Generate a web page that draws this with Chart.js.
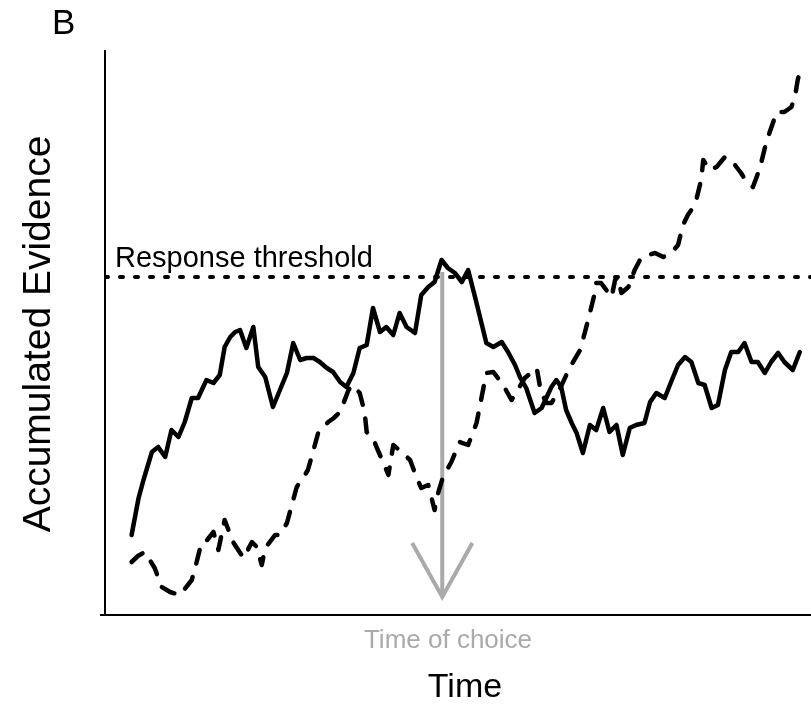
<!DOCTYPE html>
<html>
<head>
<meta charset="utf-8">
<script src="https://cdn.jsdelivr.net/npm/chart.js@4"></script>
<style>
  html, body { margin: 0; padding: 0; background: #fff; }
  #wrap { width: 811px; height: 704px; position: relative; }
</style>
</head>
<body>
<div id="wrap"><canvas id="myChart"></canvas></div>
<script>
// solid accumulator (time, evidence)
const solidTime = [3.8, 4.8, 5.5, 6.7, 7.6, 8.6, 9.5, 10.5, 11.4, 12.4, 13.3, 14.5, 15.5, 16.4, 17.1, 17.9, 18.6, 19.3, 20.2, 21.2, 21.9, 22.9, 24.0, 25.0, 26.0, 26.9, 27.9, 28.8, 29.8, 30.7, 31.7, 32.6, 33.6, 34.5, 35.5, 36.4, 37.4, 38.3, 39.3, 40.2, 41.2, 42.1, 43.1, 44.3, 45.2, 46.2, 47.1, 48.1, 49.0, 50.0, 51.0, 51.9, 53.1, 54.5, 55.5, 56.7, 57.6, 58.6, 59.3, 60.2, 61.4, 62.4, 63.8, 64.5, 65.2, 65.9, 66.7, 67.4, 68.3, 69.3, 70.2, 71.2, 72.1, 73.1, 74.0, 75.0, 75.9, 77.1, 77.9, 78.8, 80.0, 80.9, 81.9, 82.9, 83.8, 84.8, 85.7, 86.7, 87.6, 88.6, 89.5, 90.5, 91.4, 92.4, 93.3, 94.3, 95.2, 96.2, 97.1, 98.3, 99.3];
const solidEvidence = [8.0, 11.7, 13.5, 16.3, 16.8, 15.8, 18.5, 17.8, 19.3, 21.7, 21.7, 23.5, 23.2, 24.0, 26.8, 27.8, 28.3, 28.5, 26.7, 28.8, 24.8, 23.8, 20.8, 22.5, 24.2, 27.2, 25.5, 25.7, 25.7, 25.3, 24.7, 24.3, 23.3, 22.8, 24.2, 26.7, 27.0, 30.7, 28.3, 28.8, 28.0, 30.2, 28.8, 28.2, 32.0, 32.8, 33.3, 35.5, 34.7, 34.2, 33.3, 34.5, 31.2, 27.2, 26.8, 27.3, 26.3, 25.0, 23.8, 22.7, 20.2, 20.7, 22.8, 23.5, 22.8, 20.5, 19.2, 18.2, 16.2, 19.0, 18.5, 20.7, 18.3, 19.0, 16.0, 18.7, 19.0, 19.2, 21.3, 22.2, 21.7, 23.3, 25.0, 25.8, 25.3, 23.2, 23.0, 20.7, 21.0, 24.5, 26.3, 26.3, 27.2, 25.3, 25.3, 24.2, 25.3, 26.2, 25.3, 24.5, 26.3];

// dashed accumulator
const dashedTime = [3.8, 4.7, 5.7, 7.1, 8.1, 9.3, 10.7, 12.4, 13.1, 13.8, 14.6, 15.5, 16.2, 17.1, 18.3, 19.8, 21.0, 21.7, 22.4, 22.9, 24.3, 25.0, 26.0, 26.7, 27.4, 28.3, 29.0, 29.8, 30.5, 31.9, 32.7, 33.6, 34.8, 35.4, 36.4, 37.1, 37.4, 38.3, 38.8, 39.8, 40.5, 41.2, 42.4, 43.6, 44.5, 45.2, 46.2, 47.1, 47.4, 48.3, 49.5, 50.7, 51.9, 53.1, 54.5, 55.5, 56.9, 58.1, 60.0, 61.7, 62.3, 63.1, 63.8, 64.8, 66.4, 67.9, 68.6, 69.3, 70.0, 70.2, 70.9, 72.4, 72.9, 73.3, 73.8, 74.8, 75.7, 76.6, 77.6, 78.6, 79.8, 80.9, 81.9, 82.6, 83.3, 84.0, 84.5, 85.2, 85.5, 86.4, 87.4, 88.6, 89.7, 90.9, 91.7, 92.6, 93.6, 94.3, 95.0, 96.0, 97.1, 98.1, 98.6, 99.0, 99.3];
const dashedEvidence = [5.3, 5.9, 6.3, 4.7, 2.8, 2.3, 2.0, 3.5, 5.3, 7.3, 7.5, 8.3, 6.5, 9.5, 7.3, 5.7, 7.3, 6.8, 5.0, 6.7, 8.0, 8.0, 9.2, 11.0, 12.8, 13.7, 14.5, 16.5, 18.3, 19.3, 19.7, 20.3, 22.5, 23.0, 22.2, 20.3, 18.3, 17.7, 16.8, 15.2, 14.0, 17.0, 16.3, 15.5, 13.8, 12.7, 13.0, 10.5, 11.7, 13.8, 15.3, 17.3, 17.0, 19.2, 24.2, 24.3, 23.0, 21.5, 23.7, 24.7, 22.3, 21.2, 21.2, 22.3, 24.7, 26.5, 28.3, 30.2, 32.2, 33.2, 33.2, 31.8, 33.5, 33.8, 32.2, 32.8, 34.5, 35.7, 36.0, 36.2, 35.8, 36.2, 37.0, 39.0, 40.0, 40.7, 41.5, 43.5, 45.5, 44.5, 44.8, 45.8, 45.3, 44.2, 43.3, 42.8, 44.7, 46.7, 48.3, 50.3, 50.3, 50.8, 51.8, 53.5, 54.3];

const threshold = 33.8;
const choiceTime = 48.2;
const arrowTop = 34.3;
const arrowTip = 1.8;
const xMax = 100.9;
const yMax = 56.5;

const gray = '#aaaaaa';

function pts(xs, ys) {
  return xs.map((x, i) => ({ x: x, y: ys[i] }));
}

const textPlugin = {
  id: 'texts',
  afterDraw(chart) {
    const c = chart.ctx;
    const a = chart.chartArea;
    c.save();
    // axes
    c.strokeStyle = '#000';
    c.lineWidth = 2;
    c.beginPath();
    c.moveTo(a.left, a.top);
    c.lineTo(a.left, a.bottom);
    c.moveTo(a.left - 5, a.bottom);
    c.lineTo(a.right, a.bottom);
    c.stroke();

    c.fillStyle = '#000';
    c.textBaseline = 'alphabetic';
    c.font = '35px "Liberation Sans", Arial, sans-serif';
    c.textAlign = 'left';
    c.fillText('B', 52, 34);

    c.font = '29px "Liberation Sans", Arial, sans-serif';
    c.fillText('Response threshold', 115, 267);

    c.textAlign = 'center';
    c.fillStyle = gray;
    c.font = '26px "Liberation Sans", Arial, sans-serif';
    c.fillText('Time of choice', 448, 648);

    c.fillStyle = '#000';
    c.font = '34px "Liberation Sans", Arial, sans-serif';
    c.fillText('Time', 465, 697);

    c.translate(50, 334);
    c.rotate(-Math.PI / 2);
    c.font = '39px "Liberation Sans", Arial, sans-serif';
    c.fillText('Accumulated Evidence', 0, 0);
    c.restore();
  }
};

const ctx = document.getElementById('myChart');

new Chart(ctx, {
  type: 'line',
  data: {
    datasets: [
      {
        label: 'threshold',
        data: [{ x: 0, y: threshold }, { x: xMax, y: threshold }],
        borderColor: '#000',
        borderWidth: 4,
        borderDash: [3, 12],
        borderCapStyle: 'round'
      },
      {
        label: 'solid',
        data: pts(solidTime, solidEvidence),
        borderColor: '#000',
        borderWidth: 4.5,
        borderJoinStyle: 'round',
        borderCapStyle: 'round'
      },
      {
        label: 'dashed',
        data: pts(dashedTime, dashedEvidence),
        borderColor: '#000',
        borderWidth: 4.5,
        borderDash: [14, 14],
        borderJoinStyle: 'round',
        borderCapStyle: 'round'
      },
      {
        label: 'arrow',
        data: [{ x: choiceTime, y: arrowTop }, { x: choiceTime, y: arrowTip }],
        borderColor: gray,
        borderWidth: 4
      },
      {
        label: 'arrowhead',
        data: [{ x: choiceTime - 4.3, y: arrowTip + 5.4 }, { x: choiceTime, y: arrowTip }, { x: choiceTime + 4.3, y: arrowTip + 5.4 }],
        borderColor: gray,
        borderWidth: 4,
        borderJoinStyle: 'miter'
      }
    ]
  },
  options: {
    responsive: true,
    maintainAspectRatio: false,
    animation: false,
    layout: { padding: { left: 105, top: 50, right: 0, bottom: 89 } },
    elements: { point: { radius: 0 }, line: { tension: 0 } },
    plugins: { legend: { display: false }, tooltip: { enabled: false } },
    scales: {
      x: { type: 'linear', min: 0, max: xMax, display: false },
      y: { type: 'linear', min: 0, max: yMax, display: false }
    }
  },
  plugins: [textPlugin]
});
</script>
</body>
</html>
